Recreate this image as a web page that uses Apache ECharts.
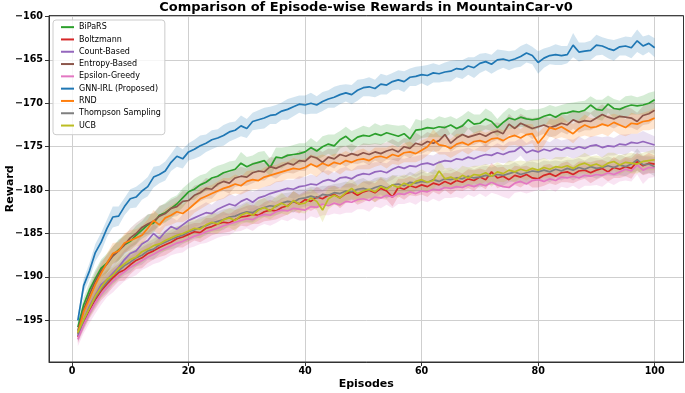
<!DOCTYPE html>
<html>
<head>
<meta charset="utf-8">
<script src="https://cdn.jsdelivr.net/npm/echarts@6/dist/echarts.min.js"></script>
<style>
html, body { margin: 0; padding: 0; background: #fff; }
#main { width: 685px; height: 393px; }
</style>
</head>
<body>
<div id="main"></div>
<script>
// episodes on the x axis
const episodes = [1,2,3,4,5,6,7,8,9,10,11,12,13,14,15,16,17,18,19,20,21,22,23,24,25,26,27,28,29,30,31,32,33,34,35,36,37,38,39,40,41,42,43,44,45,46,47,48,49,50,51,52,53,54,55,56,57,58,59,60,61,62,63,64,65,66,67,68,69,70,71,72,73,74,75,76,77,78,79,80,81,82,83,84,85,86,87,88,89,90,91,92,93,94,95,96,97,98,99,100];

const names = ['BiPaRS', 'Boltzmann', 'Count-Based', 'Entropy-Based', 'Epsilon-Greedy', 'GNN-IRL (Proposed)', 'RND', 'Thompson Sampling', 'UCB'];
const colors = ['#2ca02c', '#d62728', '#9467bd', '#8c564b', '#e377c2', '#1f77b4', '#ff7f0e', '#7f7f7f', '#bcbd22'];

// mean reward per episode
const bipars = [-195.8,-193.2,-191.5,-190.2,-189.0,-188.4,-187.5,-186.9,-186.3,-185.9,-185.2,-184.6,-184.0,-183.8,-182.9,-182.6,-182.1,-181.6,-180.9,-180.2,-179.9,-179.4,-179.1,-178.6,-178.4,-178.0,-177.8,-177.6,-176.9,-177.3,-177.0,-176.8,-176.6,-177.4,-176.2,-176.3,-176.0,-175.9,-175.8,-175.6,-175.1,-175.5,-175.0,-174.7,-174.9,-174.2,-173.8,-174.4,-173.9,-173.7,-173.8,-173.5,-173.7,-173.4,-173.6,-173.8,-173.5,-174.1,-173.1,-173.0,-172.8,-172.9,-172.7,-172.8,-172.5,-172.9,-172.6,-171.9,-172.4,-172.3,-171.8,-172.1,-172.8,-172.2,-171.7,-171.9,-171.6,-171.8,-171.9,-171.8,-171.5,-171.3,-171.6,-171.2,-171.1,-170.9,-171.0,-170.8,-170.2,-170.7,-170.8,-170.1,-170.6,-170.7,-170.4,-170.2,-170.3,-170.2,-170.0,-169.6];
const boltzmann = [-196.9,-195.2,-193.8,-192.6,-191.6,-190.8,-190.1,-189.5,-189.2,-188.6,-188.1,-187.8,-187.3,-187.0,-186.6,-186.3,-186.0,-185.6,-185.4,-185.1,-184.8,-184.9,-184.4,-184.2,-183.9,-183.7,-183.8,-183.4,-183.1,-183.0,-182.8,-182.9,-182.5,-182.3,-182.4,-182.0,-181.8,-181.3,-181.6,-181.1,-181.3,-180.8,-181.0,-180.6,-180.5,-180.9,-180.4,-180.2,-180.6,-180.2,-180.0,-180.3,-179.8,-180.1,-180.8,-179.7,-179.9,-179.5,-179.7,-179.4,-179.6,-179.2,-179.4,-179.0,-179.3,-178.9,-179.1,-178.7,-178.9,-178.5,-178.8,-177.9,-178.6,-178.4,-178.8,-178.3,-178.5,-178.2,-178.6,-178.7,-178.3,-178.1,-178.4,-178.0,-177.9,-178.2,-177.8,-177.7,-178.0,-177.7,-177.5,-177.9,-177.4,-177.6,-177.3,-177.5,-176.7,-177.2,-176.9,-177.0];
const countBased = [-196.8,-195.0,-193.4,-192.1,-190.9,-190.3,-189.6,-188.9,-188.0,-187.3,-187.0,-186.2,-185.8,-185.0,-185.6,-184.8,-184.2,-184.5,-184.0,-183.5,-183.2,-182.9,-182.6,-182.7,-182.2,-181.9,-181.6,-181.8,-181.3,-181.0,-181.4,-180.9,-180.7,-180.4,-180.2,-180.0,-179.8,-179.9,-179.6,-179.5,-179.3,-179.4,-179.0,-178.8,-179.0,-178.6,-178.5,-178.7,-178.3,-178.1,-178.2,-177.9,-177.8,-178.0,-177.6,-177.3,-177.5,-177.2,-177.3,-177.0,-176.9,-177.1,-176.8,-176.6,-176.7,-176.4,-176.5,-176.2,-176.4,-176.1,-175.9,-176.0,-175.7,-175.9,-175.6,-175.5,-175.0,-175.7,-175.4,-175.6,-175.3,-175.5,-175.2,-175.4,-175.1,-175.3,-175.0,-175.2,-174.9,-174.8,-175.1,-174.9,-175.0,-174.7,-174.8,-174.5,-174.6,-174.4,-174.6,-174.8];
const entropyBased = [-196.2,-193.8,-192.0,-190.5,-189.3,-188.5,-187.6,-187.0,-186.3,-185.5,-185.0,-184.3,-183.9,-183.6,-183.0,-182.7,-182.1,-181.9,-181.3,-181.2,-180.6,-180.3,-179.8,-179.9,-179.3,-179.0,-179.2,-178.6,-178.4,-178.5,-178.0,-177.8,-177.9,-177.3,-177.5,-177.2,-176.9,-177.1,-176.6,-176.7,-176.1,-176.3,-176.8,-176.2,-176.4,-175.9,-176.1,-175.8,-176.0,-175.7,-175.9,-175.6,-175.8,-175.5,-175.3,-175.6,-175.0,-175.2,-174.6,-174.8,-174.4,-174.6,-174.3,-173.6,-174.6,-174.0,-173.6,-173.9,-173.7,-173.5,-173.8,-173.4,-173.2,-173.5,-172.4,-172.9,-172.3,-172.6,-172.9,-172.7,-172.5,-172.8,-172.6,-172.3,-172.5,-171.9,-172.2,-172.0,-172.1,-171.7,-171.3,-171.6,-171.8,-171.5,-171.6,-171.7,-172.1,-171.4,-171.2,-170.8];
const epsilonGreedy = [-197.2,-195.5,-194.2,-193.0,-192.0,-191.2,-190.5,-189.9,-189.4,-188.9,-188.5,-188.1,-187.7,-187.4,-187.0,-186.7,-186.4,-186.1,-185.9,-185.6,-185.3,-185.1,-184.8,-184.6,-184.4,-184.1,-183.9,-183.7,-183.5,-183.3,-183.4,-183.0,-182.8,-182.9,-182.5,-182.3,-182.4,-182.1,-182.2,-182.3,-181.9,-182.0,-181.6,-181.8,-181.5,-181.7,-181.3,-181.4,-181.1,-181.0,-181.2,-180.8,-180.9,-180.6,-180.8,-180.4,-180.5,-180.2,-180.4,-180.1,-180.2,-179.9,-180.0,-179.7,-179.8,-179.6,-179.7,-179.4,-179.6,-179.3,-179.5,-179.1,-179.4,-179.6,-179.7,-179.2,-179.0,-179.3,-178.9,-178.8,-179.0,-178.7,-178.9,-178.5,-178.6,-178.4,-178.6,-178.3,-178.4,-178.2,-178.3,-178.0,-178.2,-177.9,-177.6,-177.8,-177.1,-177.7,-177.4,-177.4];
const gnnIrl = [-195.0,-191.0,-189.3,-187.2,-186.0,-184.4,-183.1,-183.0,-181.9,-181.0,-180.8,-180.1,-179.6,-178.5,-178.2,-177.8,-176.8,-176.1,-176.4,-175.6,-175.3,-174.9,-174.6,-174.2,-174.0,-173.7,-173.3,-173.1,-172.6,-172.9,-172.1,-171.9,-171.7,-171.4,-171.3,-170.9,-170.7,-170.4,-170.1,-170.2,-170.0,-170.2,-169.8,-169.5,-169.3,-169.0,-168.8,-169.0,-168.5,-168.2,-168.1,-168.3,-167.8,-167.9,-167.5,-167.3,-167.5,-167.0,-166.9,-166.7,-166.8,-166.5,-166.6,-166.4,-166.3,-166.0,-166.1,-165.7,-165.9,-165.4,-165.2,-165.5,-165.0,-164.9,-165.1,-164.9,-164.6,-164.2,-164.5,-165.3,-164.8,-164.5,-164.4,-164.5,-164.4,-163.3,-164.1,-164.0,-163.9,-163.3,-163.4,-163.7,-163.9,-163.5,-163.4,-163.6,-162.8,-163.4,-163.1,-163.6];
const rnd = [-196.5,-194.0,-192.5,-190.9,-189.6,-188.4,-187.3,-187.0,-186.1,-185.8,-185.5,-185.2,-184.4,-183.5,-184.0,-183.2,-182.9,-182.5,-182.7,-182.2,-181.6,-181.0,-180.7,-180.4,-180.1,-179.8,-179.6,-179.3,-179.5,-179.0,-178.8,-178.9,-178.5,-178.3,-178.1,-177.9,-177.7,-177.5,-177.6,-177.4,-177.0,-177.3,-176.9,-177.2,-176.8,-177.0,-176.6,-176.8,-176.5,-176.4,-176.6,-176.2,-176.1,-176.3,-175.9,-176.1,-175.7,-175.6,-175.8,-175.4,-175.0,-174.2,-174.8,-174.9,-175.2,-174.7,-174.5,-174.8,-174.4,-174.3,-174.5,-174.1,-174.0,-174.3,-173.9,-173.7,-174.0,-173.6,-173.5,-174.6,-173.8,-172.8,-173.0,-172.7,-173.1,-173.5,-172.9,-172.5,-172.8,-172.7,-172.4,-172.6,-172.2,-172.5,-172.8,-172.3,-172.4,-172.1,-172.0,-171.7];
const thompson = [-196.6,-195.0,-193.6,-192.4,-191.4,-190.6,-189.8,-189.3,-188.7,-188.3,-187.8,-187.5,-187.0,-186.8,-186.3,-186.0,-185.7,-185.4,-185.2,-184.8,-184.6,-184.3,-184.1,-183.8,-183.6,-183.4,-183.1,-183.0,-182.7,-182.5,-182.6,-182.2,-182.0,-181.8,-181.9,-181.5,-181.3,-181.4,-181.0,-180.9,-180.7,-180.9,-180.5,-180.6,-180.3,-180.4,-180.1,-180.2,-179.9,-179.8,-180.0,-179.7,-179.5,-179.8,-179.4,-179.3,-179.5,-179.1,-179.2,-179.0,-179.1,-178.8,-179.0,-178.7,-178.8,-178.6,-178.7,-178.4,-178.6,-178.5,-178.3,-178.4,-178.2,-178.3,-178.1,-177.9,-178.2,-178.0,-177.8,-177.9,-177.7,-177.9,-177.6,-177.8,-177.5,-177.7,-177.4,-177.6,-177.3,-177.5,-177.4,-177.2,-177.4,-177.1,-177.3,-177.0,-176.5,-177.1,-177.0,-177.3];
const ucb = [-196.4,-194.9,-193.6,-192.2,-191.2,-190.3,-189.8,-189.0,-188.5,-188.0,-187.7,-187.1,-186.8,-186.4,-186.2,-185.8,-185.5,-185.2,-185.0,-184.7,-184.4,-184.5,-184.0,-183.7,-183.9,-183.4,-183.2,-183.5,-182.9,-182.6,-182.9,-182.3,-182.0,-182.4,-181.8,-181.5,-181.9,-181.2,-181.6,-181.5,-180.9,-181.3,-182.3,-181.0,-180.6,-180.9,-180.3,-179.8,-180.4,-180.1,-179.9,-180.2,-179.6,-179.9,-179.4,-179.7,-179.2,-179.5,-179.0,-178.8,-179.1,-178.9,-177.8,-178.7,-178.5,-178.8,-178.3,-178.6,-178.2,-178.3,-178.0,-178.4,-177.9,-178.1,-177.7,-177.9,-177.6,-177.8,-177.5,-177.7,-177.4,-177.6,-177.3,-177.4,-177.2,-177.5,-177.1,-176.9,-177.2,-177.0,-177.3,-176.9,-176.7,-177.1,-176.8,-176.9,-177.0,-176.7,-176.6,-176.5];

// half-width of the shaded band (std) per episode
const sdBipars = [0.6,0.8,0.9,1.0,1.0,1.1,1.0,1.2,1.1,1.0,1.1,1.0,1.2,1.1,1.0,1.1,1.2,1.0,1.1,1.0,1.2,1.1,1.0,1.1,1.2,1.0,1.1,1.0,1.3,1.1,1.0,1.2,1.1,1.0,1.1,1.2,1.0,1.1,1.2,1.0,1.1,1.0,1.2,1.1,1.3,1.0,1.1,1.2,1.0,1.1,1.0,1.2,1.1,1.0,1.1,1.2,1.0,1.1,1.3,1.0,1.1,1.0,1.2,1.1,1.0,1.1,1.2,1.0,1.1,1.0,1.2,1.1,1.0,1.1,1.2,1.0,1.1,1.0,1.2,1.1,1.0,1.1,1.2,1.0,1.1,1.0,1.2,1.1,1.0,1.1,1.2,1.0,1.1,1.0,1.2,1.1,1.0,1.1,1.2,1.0];
const sdBoltzmann = [0.7,0.9,1.0,1.1,1.1,1.2,1.1,1.0,1.2,1.1,1.0,1.2,1.1,1.0,1.1,1.2,1.1,1.0,1.2,1.1,1.0,1.1,1.2,1.0,1.1,1.2,1.0,1.1,1.0,1.2,1.1,1.0,1.1,1.2,1.0,1.1,1.0,1.2,1.1,1.0,1.1,1.2,1.0,1.1,1.0,1.2,1.1,1.0,1.1,1.2,1.0,1.1,1.2,1.0,1.1,1.0,1.2,1.1,1.0,1.1,1.2,1.0,1.1,1.0,1.2,1.1,1.0,1.1,1.2,1.0,1.1,1.0,1.2,1.1,1.0,1.1,1.2,1.0,1.1,1.0,1.2,1.1,1.0,1.1,1.2,1.0,1.1,1.0,1.2,1.1,1.0,1.1,1.2,1.0,1.1,1.2,1.0,1.1,1.2,1.0];
const sdCountBased = [0.7,0.9,1.0,1.0,1.1,1.1,1.0,1.2,1.1,1.0,1.1,1.2,1.0,1.1,1.2,1.0,1.1,1.0,1.2,1.1,1.0,1.1,1.2,1.0,1.1,1.0,1.2,1.1,1.0,1.1,1.2,1.0,1.1,1.0,1.2,1.1,1.0,1.1,1.2,1.0,1.1,1.0,1.2,1.1,1.0,1.1,1.2,1.0,1.1,1.0,1.2,1.1,1.0,1.1,1.2,1.0,1.1,1.0,1.2,1.1,1.0,1.1,1.2,1.0,1.1,1.0,1.2,1.1,1.0,1.1,1.2,1.0,1.1,1.0,1.2,1.1,1.0,1.1,1.2,1.0,1.1,1.0,1.2,1.1,1.0,1.1,1.2,1.0,1.1,1.0,1.2,1.1,1.0,1.1,1.2,1.0,1.1,1.2,1.1,1.0];
const sdEntropyBased = [0.6,0.8,0.9,1.0,1.1,1.0,1.1,1.2,1.0,1.1,1.2,1.0,1.1,1.0,1.2,1.1,1.0,1.1,1.2,1.0,1.1,1.0,1.2,1.1,1.0,1.1,1.2,1.0,1.1,1.0,1.2,1.1,1.0,1.1,1.2,1.0,1.1,1.0,1.2,1.1,1.0,1.1,1.2,1.0,1.1,1.0,1.2,1.1,1.0,1.1,1.2,1.0,1.1,1.0,1.2,1.1,1.0,1.1,1.2,1.0,1.1,1.0,1.2,1.1,1.0,1.1,1.2,1.0,1.1,1.0,1.2,1.1,1.0,1.1,1.2,1.0,1.1,1.0,1.2,1.1,1.0,1.1,1.2,1.0,1.1,1.0,1.2,1.1,1.0,1.1,1.2,1.0,1.1,1.0,1.2,1.1,1.0,1.1,1.2,1.0];
const sdEpsilonGreedy = [0.8,1.0,1.1,1.2,1.2,1.1,1.3,1.2,1.1,1.2,1.3,1.1,1.2,1.1,1.3,1.2,1.1,1.2,1.3,1.1,1.2,1.1,1.3,1.2,1.1,1.2,1.3,1.1,1.2,1.1,1.3,1.2,1.1,1.2,1.3,1.1,1.2,1.1,1.3,1.2,1.1,1.2,1.3,1.1,1.2,1.1,1.3,1.2,1.1,1.2,1.3,1.1,1.2,1.1,1.3,1.2,1.1,1.2,1.3,1.1,1.2,1.1,1.3,1.2,1.1,1.2,1.3,1.1,1.2,1.1,1.3,1.2,1.1,1.2,1.3,1.1,1.2,1.1,1.3,1.2,1.1,1.2,1.3,1.1,1.2,1.1,1.3,1.2,1.1,1.2,1.3,1.1,1.2,1.1,1.3,1.2,1.1,1.6,1.2,1.1];
const sdGnnIrl = [0.6,0.8,0.9,1.0,1.1,1.0,1.2,1.1,1.0,1.1,1.2,1.0,1.1,1.2,1.0,1.1,1.0,1.2,1.1,1.0,1.1,1.2,1.0,1.1,1.0,1.2,1.1,1.0,1.2,1.1,1.0,1.1,1.2,1.0,1.1,1.0,1.2,1.1,1.0,1.1,1.2,1.0,1.1,1.0,1.2,1.1,1.0,1.1,1.2,1.0,1.1,1.0,1.2,1.1,1.0,1.1,1.2,1.0,1.1,1.0,1.2,1.1,1.0,1.1,1.2,1.0,1.1,1.0,1.2,1.1,1.0,1.1,1.2,1.0,1.1,1.0,1.2,1.1,1.0,1.3,1.1,1.0,1.2,1.1,1.0,1.4,1.1,1.0,1.1,1.2,1.0,1.1,1.2,1.0,1.1,1.2,1.3,1.1,1.0,1.1];
const sdRnd = [0.6,0.8,0.9,1.0,1.0,1.1,1.2,1.0,1.1,1.2,1.0,1.1,1.0,1.2,1.1,1.0,1.1,1.2,1.0,1.1,1.0,1.2,1.1,1.0,1.1,1.2,1.0,1.1,1.0,1.2,1.1,1.0,1.1,1.2,1.0,1.1,1.0,1.2,1.1,1.0,1.1,1.2,1.0,1.1,1.0,1.2,1.1,1.0,1.1,1.2,1.0,1.1,1.0,1.2,1.1,1.0,1.1,1.2,1.0,1.1,1.0,1.2,1.1,1.0,1.1,1.2,1.0,1.1,1.0,1.2,1.1,1.0,1.1,1.2,1.0,1.1,1.0,1.2,1.1,1.2,1.1,1.0,1.1,1.2,1.0,1.1,1.0,1.2,1.1,1.0,1.1,1.2,1.0,1.1,1.0,1.2,1.1,1.0,1.1,1.2];
const sdThompson = [0.7,0.9,1.0,1.1,1.0,1.2,1.1,1.0,1.1,1.2,1.0,1.1,1.0,1.2,1.1,1.0,1.1,1.2,1.0,1.1,1.0,1.2,1.1,1.0,1.1,1.2,1.0,1.1,1.0,1.2,1.1,1.0,1.1,1.2,1.0,1.1,1.0,1.2,1.1,1.0,1.1,1.2,1.0,1.1,1.0,1.2,1.1,1.0,1.1,1.2,1.0,1.1,1.0,1.2,1.1,1.0,1.1,1.2,1.0,1.1,1.0,1.2,1.1,1.0,1.1,1.2,1.0,1.1,1.0,1.2,1.1,1.0,1.1,1.2,1.0,1.1,1.0,1.2,1.1,1.0,1.1,1.2,1.0,1.1,1.0,1.2,1.1,1.0,1.1,1.2,1.0,1.1,1.0,1.2,1.1,1.0,1.3,1.1,1.0,1.1];
const sdUcb = [0.7,0.9,1.0,1.1,1.2,1.1,1.0,1.2,1.1,1.0,1.1,1.2,1.0,1.1,1.0,1.2,1.1,1.0,1.1,1.2,1.0,1.1,1.0,1.2,1.1,1.0,1.1,1.2,1.0,1.1,1.0,1.2,1.1,1.0,1.1,1.2,1.0,1.1,1.0,1.2,1.1,1.0,1.4,1.2,1.1,1.0,1.1,1.2,1.0,1.1,1.0,1.2,1.1,1.0,1.1,1.2,1.0,1.1,1.0,1.2,1.1,1.0,1.3,1.2,1.1,1.0,1.1,1.2,1.0,1.1,1.0,1.2,1.1,1.0,1.1,1.2,1.0,1.1,1.0,1.2,1.1,1.0,1.1,1.2,1.0,1.1,1.0,1.2,1.1,1.0,1.1,1.2,1.0,1.1,1.0,1.2,1.1,1.0,1.1,1.2];

const means = [bipars, boltzmann, countBased, entropyBased, epsilonGreedy, gnnIrl, rnd, thompson, ucb];
const sds = [sdBipars, sdBoltzmann, sdCountBased, sdEntropyBased, sdEpsilonGreedy, sdGnnIrl, sdRnd, sdThompson, sdUcb];

const FONT = 'DejaVu Sans';
const X_MIN = -3.95, X_MAX = 104.95, Y_MIN = -199.8, Y_MAX = -159.9;
const chart = echarts.init(document.getElementById('main'), null, { renderer: 'canvas' });

// shaded band between mean-sd and mean+sd
function bandRenderer(i) {
  return function (params, api) {
    if (params.dataIndex > 0) return;
    const upper = [], lower = [];
    for (let k = 0; k < episodes.length; k++) {
      upper.push(api.coord([episodes[k], means[i][k] + sds[i][k]]));
      lower.push(api.coord([episodes[k], means[i][k] - sds[i][k]]));
    }
    return {
      type: 'polygon',
      shape: { points: upper.concat(lower.reverse()) },
      style: { fill: colors[i], opacity: 0.2 },
      silent: true
    };
  };
}

const series = [];
names.forEach((name, i) => {
  series.push({
    name,
    type: 'line',
    data: episodes.map((e, k) => [e, means[i][k]]),
    showSymbol: false,
    symbol: 'none',
    lineStyle: { color: colors[i], width: 1.7 },
    itemStyle: { color: colors[i] },
    z: 2
  });
  series.push({
    name,
    type: 'custom',
    data: [[episodes[0], means[i][0]]],
    renderItem: bandRenderer(i),
    itemStyle: { color: colors[i] },
    clip: true,
    silent: true,
    z: 2
  });
});

const minus = v => String(v).replace('-', '\u2212');

chart.setOption({
  animation: false,
  backgroundColor: '#fff',
  title: {
    text: 'Comparison of Episode-wise Rewards in MountainCar-v0',
    left: 366,
    top: 1,
    padding: 0,
    textAlign: 'center',
    textStyle: { fontFamily: FONT, fontSize: 13, fontWeight: 'bold', color: '#000' }
  },
  legend: {
    data: names,
    orient: 'vertical',
    left: 53,
    top: 20,
    icon: 'rect',
    itemWidth: 13,
    itemHeight: 2,
    itemGap: 0,
    padding: [1, 4, 3, 8],
    borderColor: '#cccccc',
    borderWidth: 1,
    borderRadius: 3,
    backgroundColor: 'rgba(255,255,255,0.8)',
    textStyle: { fontFamily: FONT, fontSize: 8, lineHeight: 12.3, color: '#000' },
    selectedMode: false
  },
  grid: { left: 49, right: 1.5, top: 15.6, bottom: 31, containLabel: false, outerBoundsMode: 'none' },
  xAxis: {
    type: 'value',
    min: X_MIN,
    max: X_MAX,
    splitNumber: 5,
    name: 'Episodes',
    nameLocation: 'middle',
    nameGap: 17,
    nameMoveOverlap: false,
    nameTextStyle: { fontFamily: FONT, fontSize: 11, fontWeight: 'bold', color: '#000' },
    axisLine: { show: true, onZero: false, lineStyle: { color: '#333', width: 1 } },
    axisTick: { show: true, length: 4, lineStyle: { color: '#333' } },
    axisLabel: { showMinLabel: false, showMaxLabel: false, margin: 4, fontFamily: FONT, fontSize: 9.6, fontWeight: 'bold', color: '#000' },
    splitLine: { show: true, lineStyle: { color: '#cfcfcf', width: 1 } }
  },
  yAxis: {
    type: 'value',
    min: Y_MIN,
    max: Y_MAX,
    splitNumber: 8,
    name: 'Reward',
    nameLocation: 'middle',
    nameGap: 33,
    nameMoveOverlap: false,
    nameTextStyle: { fontFamily: FONT, fontSize: 11, fontWeight: 'bold', color: '#000' },
    axisLine: { show: true, onZero: false, lineStyle: { color: '#333', width: 1 } },
    axisTick: { show: true, length: 4, lineStyle: { color: '#333' } },
    axisLabel: { showMinLabel: false, showMaxLabel: false, margin: 6, fontFamily: FONT, fontSize: 9.6, fontWeight: 'bold', color: '#000', formatter: minus },
    splitLine: { show: true, lineStyle: { color: '#cfcfcf', width: 1 } }
  },
  series
});

// frame on all four sides, like the matplotlib spines
const p0 = chart.convertToPixel({ gridIndex: 0 }, [X_MIN, Y_MAX]);
const p1 = chart.convertToPixel({ gridIndex: 0 }, [X_MAX, Y_MIN]);
chart.setOption({
  graphic: [{
    type: 'rect',
    shape: { x: p0[0], y: p0[1], width: p1[0] - p0[0], height: p1[1] - p0[1] },
    style: { fill: 'none', stroke: '#333', lineWidth: 1 },
    silent: true,
    z: 10
  }]
});
</script>
</body>
</html>
